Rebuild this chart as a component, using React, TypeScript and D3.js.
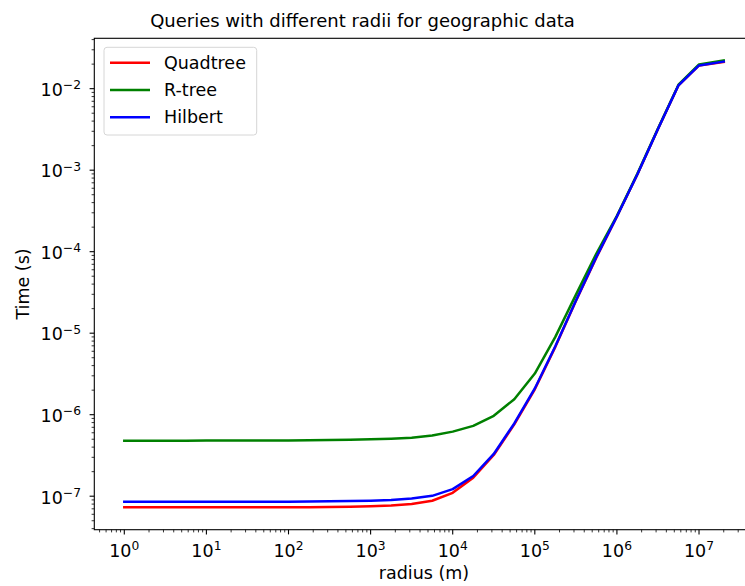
import React from "react";
import * as d3 from "d3";

// Query radius in metres (quarter-decade steps, plus half the Earth's circumference)
const radii = [
  1, 1.778, 3.162, 5.623, 10, 17.78, 31.62, 56.23, 100, 177.8, 316.2, 562.3,
  1000, 1778, 3162, 5623, 1e4, 17783, 31623, 56234, 1e5, 177828, 316228, 562341,
  1e6, 1778279, 3162278, 5623413, 1e7, 2e7,
];

// Mean query time (s) per structure
const quadtree = [
  7.3e-8, 7.3e-8, 7.3e-8, 7.3e-8, 7.3e-8, 7.3e-8, 7.3e-8, 7.3e-8, 7.3e-8, 7.32e-8,
  7.35e-8, 7.42e-8, 7.52e-8, 7.7e-8, 8.0e-8, 8.8e-8, 1.1e-7, 1.69e-7, 3.2e-7, 7.6e-7,
  2.05e-6, 6.8e-6, 2.48e-5, 8.5e-5, 2.7e-4, 8.9e-4, 3.2e-3, 1.1e-2, 1.93e-2, 2.13e-2,
];
const rtree = [
  4.8e-7, 4.8e-7, 4.8e-7, 4.8e-7, 4.81e-7, 4.81e-7, 4.82e-7, 4.83e-7, 4.84e-7, 4.86e-7,
  4.88e-7, 4.93e-7, 5.0e-7, 5.08e-7, 5.22e-7, 5.55e-7, 6.2e-7, 7.3e-7, 9.7e-7, 1.55e-6,
  3.2e-6, 9.0e-6, 2.95e-5, 9.5e-5, 2.75e-4, 9.1e-4, 3.25e-3, 1.12e-2, 1.98e-2, 2.22e-2,
];
const hilbert = [
  8.55e-8, 8.55e-8, 8.55e-8, 8.55e-8, 8.55e-8, 8.55e-8, 8.55e-8, 8.55e-8, 8.55e-8, 8.6e-8,
  8.65e-8, 8.72e-8, 8.82e-8, 9.0e-8, 9.35e-8, 1.01e-7, 1.22e-7, 1.77e-7, 3.3e-7, 7.8e-7,
  2.1e-6, 6.9e-6, 2.5e-5, 8.6e-5, 2.7e-4, 8.9e-4, 3.2e-3, 1.1e-2, 1.93e-2, 2.15e-2,
];

const seriesNames = ["Quadtree", "R-tree", "Hilbert"];
const seriesColors = ["#ff0000", "#008000", "#0000ff"];
const xMajorExps = [0, 1, 2, 3, 4, 5, 6, 7];
const yMajorExps = [-7, -6, -5, -4, -3, -2];

const title = "Queries with different radii for geographic data";
const xLabel = "radius (m)";
const yLabel = "Time (s)";

const W = 745;
const H = 586;
const left = 94.3;
const right = 753.7;
const top = 38.3;
const bottom = 529.7;
const FONT = "DejaVu Sans, sans-serif";

export default function App() {
  const x = d3.scaleLog().domain([Math.pow(10, -0.3654), Math.pow(10, 7.666)]).range([left, right]);
  const y = d3.scaleLog().domain([Math.pow(10, -7.411), Math.pow(10, -1.382)]).range([bottom, top]);

  const minorTicks = (scale: d3.ScaleLogarithmic<number, number>, lo: number, hi: number) => {
    const out: number[] = [];
    const [d0, d1] = scale.domain();
    for (let e = lo; e <= hi; e++) {
      for (let m = 2; m <= 9; m++) {
        const v = m * Math.pow(10, e);
        if (v >= d0 && v <= d1) out.push(v);
      }
    }
    return out;
  };
  const xMinor = minorTicks(x, -1, 7);
  const yMinor = minorTicks(y, -8, -2);

  const series = [quadtree, rtree, hilbert];
  const line = d3
    .line<number>()
    .x((_, i) => x(radii[i]))
    .y((v) => y(v));

  const expText = (e: number) => (e < 0 ? "\u2212" + Math.abs(e) : String(e));

  const legendX = 104;
  const legendY = 47.3;
  const legendRows = [62.7, 90, 117.3];

  return (
    <svg
      width={W}
      height={H}
      style={{ position: "absolute", left: 0, top: 0, display: "block", background: "#fff" }}
      fontFamily={FONT}
    >
      <rect x={0} y={0} width={W} height={H} fill="#fff" />
      <defs>
        <clipPath id="plot-area">
          <rect x={left} y={top} width={right - left} height={bottom - top} />
        </clipPath>
      </defs>

      {/* data lines */}
      <g clipPath="url(#plot-area)">
        {series.map((s, i) => (
          <path
            key={seriesNames[i]}
            d={line(s) || ""}
            fill="none"
            stroke={seriesColors[i]}
            strokeWidth={2.5}
            strokeLinejoin="round"
            strokeLinecap="square"
          />
        ))}
      </g>

      {/* spines */}
      <rect x={left} y={top} width={right - left} height={bottom - top} fill="none" stroke="#000" strokeWidth={1.1} />

      {/* x ticks */}
      {xMajorExps.map((e) => {
        const px = x(Math.pow(10, e));
        return (
          <g key={"xm" + e}>
            <line x1={px} x2={px} y1={bottom} y2={bottom + 4.7} stroke="#000" strokeWidth={1.1} />
            <text x={px} y={556.7} textAnchor="middle" fontSize={17.5} fill="#000">
              10
              <tspan dy={-6.7} fontSize={12.3}>{expText(e)}</tspan>
            </text>
          </g>
        );
      })}
      {xMinor.map((v, i) => (
        <line key={"xn" + i} x1={x(v)} x2={x(v)} y1={bottom} y2={bottom + 2.7} stroke="#000" strokeWidth={0.8} />
      ))}

      {/* y ticks */}
      {yMajorExps.map((e) => {
        const py = y(Math.pow(10, e));
        return (
          <g key={"ym" + e}>
            <line x1={left - 4.7} x2={left} y1={py} y2={py} stroke="#000" strokeWidth={1.1} />
            <text x={81} y={py + 7.3} textAnchor="end" fontSize={17.5} fill="#000">
              10
              <tspan dy={-6.7} fontSize={12.3}>{expText(e)}</tspan>
            </text>
          </g>
        );
      })}
      {yMinor.map((v, i) => (
        <line key={"yn" + i} x1={left - 2.7} x2={left} y1={y(v)} y2={y(v)} stroke="#000" strokeWidth={0.8} />
      ))}

      {/* labels */}
      <text x={362.5} y={27} textAnchor="middle" fontSize={18} fill="#000">
        {title}
      </text>
      <text x={(left + right) / 2} y={579} textAnchor="middle" fontSize={17.5} fill="#000">
        {xLabel}
      </text>
      <text
        transform={`translate(29, ${(top + bottom) / 2}) rotate(-90)`}
        textAnchor="middle"
        fontSize={17.5}
        fill="#000"
      >
        {yLabel}
      </text>

      {/* legend */}
      <rect
        x={legendX}
        y={legendY}
        width={152.7}
        height={87.7}
        rx={3}
        ry={3}
        fill="#fff"
        fillOpacity={0.8}
        stroke="#d6d6d6"
        strokeWidth={1}
      />
      {seriesNames.map((name, i) => (
        <g key={"lg" + name}>
          <line x1={110} x2={150} y1={legendRows[i]} y2={legendRows[i]} stroke={seriesColors[i]} strokeWidth={2.5} />
          <text x={164} y={legendRows[i] + 6} fontSize={17.5} fill="#000">
            {name}
          </text>
        </g>
      ))}
    </svg>
  );
}
